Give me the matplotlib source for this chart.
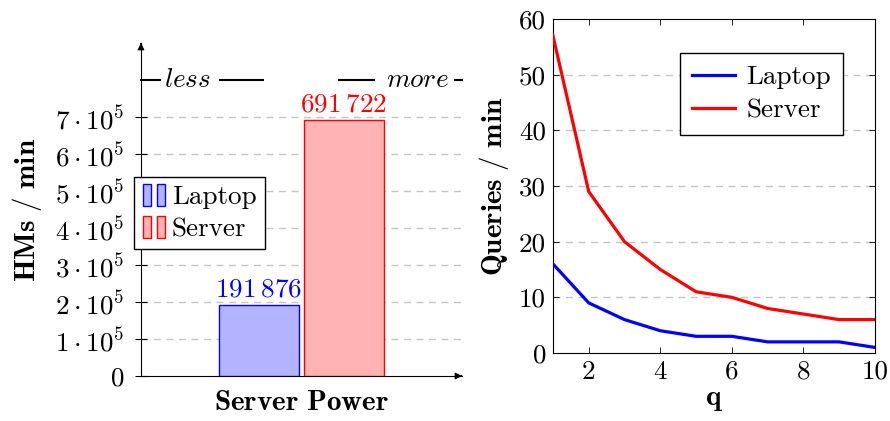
import matplotlib
matplotlib.use("Agg")
import matplotlib.pyplot as plt
import matplotlib.patches as patches
from matplotlib.legend_handler import HandlerBase

# Computer Modern look for all text
plt.rcParams['font.family'] = ['cmr10', 'DejaVu Serif']
plt.rcParams['mathtext.fontset'] = 'cm'
plt.rcParams['axes.formatter.use_mathtext'] = True
plt.rcParams['axes.unicode_minus'] = False

# hash matches per minute on each machine
machines = ['Laptop', 'Server']
hms_per_min = [191876, 691722]
hm_labels = [r'$191\:876$', r'$691\:722$']
hm_ticks = [0, 1e5, 2e5, 3e5, 4e5, 5e5, 6e5, 7e5]
hm_ticklabels = ['$0$'] + [r'$%d\cdot10^{5}$' % k for k in range(1, 8)]

# queries per minute against q
q_values = [1, 2, 3, 4, 5, 6, 7, 8, 9, 10]
laptop_queries = [16, 9, 6, 4, 3, 3, 2, 2, 2, 1]
server_queries = [57, 29, 20, 15, 11, 10, 8, 7, 6, 6]

line_colors = ['#0000ff', '#ff0000']
fill_colors = ['#b3b3ff', '#ffb3b3']
fs = 19.5
lfs = 21


class TwoBarHandler(HandlerBase):
    # legend key made of two little bars, like pgfplots ybar legends
    def create_artists(self, legend, orig, xd, yd, w, h, fontsize, trans):
        bw = w * 0.32
        out = []
        for x0 in (xd + w * 0.05, xd + w * 0.62):
            r = patches.Rectangle((x0, yd - h * 0.1), bw, h * 1.15,
                                  facecolor=orig.get_facecolor(),
                                  edgecolor=orig.get_edgecolor(), lw=1, transform=trans)
            out.append(r)
        return out


fig = plt.figure(figsize=(8.9, 4.21), dpi=100)

# ---------- left: bar chart ----------
ax1 = fig.add_axes([0.1584, 0.1069, 0.3607, 0.791])
ax1.set_xlim(-0.5, 0.5)
ax1.set_ylim(0, 9e5)
offsets = [-0.1325, 0.1325]
bars = []
for name, val, off, lc, fc, lab in zip(machines, hms_per_min, offsets, line_colors, fill_colors, hm_labels):
    b = ax1.bar(off, val, width=0.249, color=fc, edgecolor=lc, linewidth=1, label=name, zorder=3)
    bars.append(b[0])
    ax1.text(off, val + 0.1e5, lab, color=lc, ha='center', va='bottom', fontsize=fs)

for s in ['top', 'right']:
    ax1.spines[s].set_visible(False)
ax1.spines['left'].set_linewidth(0.8)
ax1.spines['bottom'].set_linewidth(0.8)
ax1.set_yticks(hm_ticks)
ax1.set_yticklabels(hm_ticklabels, fontsize=fs)
ax1.set_xticks([])
ax1.tick_params(axis='y', direction='inout', length=8, width=0.8, pad=8)
for t in hm_ticks[1:]:
    ax1.axhline(t, color='#c4c4c4', lw=1, ls=(0, (5, 4)), zorder=1)

# axis arrows
ax1.annotate('', xy=(1.0, 0), xytext=(0.99, 0), xycoords='axes fraction',
             arrowprops=dict(arrowstyle='-|>', color='k', lw=0.8, mutation_scale=10), annotation_clip=False)
ax1.annotate('', xy=(0, 1.0), xytext=(0, 0.99), xycoords='axes fraction',
             arrowprops=dict(arrowstyle='-|>', color='k', lw=0.8, mutation_scale=10), annotation_clip=False)

# "less ... more" guide line at 8e5
tr = ax1.get_yaxis_transform()
for x0, x1 in [(0.0, 0.059), (0.246, 0.380), (0.617, 0.726), (0.978, 1.0)]:
    ax1.plot([x0, x1], [8e5, 8e5], color='k', lw=1.5, transform=tr, clip_on=False)
ax1.text(0.146, 8e5, r'$\mathit{less}$', transform=tr, ha='center', va='center', fontsize=fs)
ax1.text(0.86, 8e5, r'$\mathit{more}$', transform=tr, ha='center', va='center', fontsize=fs)

ax1.set_ylabel(r'$\mathbf{HMs\ /\ min}$', fontsize=lfs, labelpad=8)
ax1.set_xlabel(r'$\mathbf{Server\ Power}$', fontsize=lfs, labelpad=10)
fig.legend(bars, machines, loc='upper left', bbox_to_anchor=(0.1506, 0.5796),
           bbox_transform=fig.transFigure, handler_map={patches.Rectangle: TwoBarHandler()},
           fontsize=fs, fancybox=False, edgecolor='k', framealpha=1, handlelength=0.9,
           handletextpad=0.2, borderpad=0.3, labelspacing=0.3, borderaxespad=0)

# ---------- right: line chart ----------
ax2 = fig.add_axes([0.6213, 0.1615, 0.3618, 0.7933])
l1, = ax2.plot(q_values, laptop_queries, color=line_colors[0], lw=2.3, zorder=3)
l2, = ax2.plot(q_values, server_queries, color=line_colors[1], lw=2.3, zorder=3)
ax2.set_xlim(1, 10)
ax2.set_ylim(0, 60)
ax2.set_xticks([2, 4, 6, 8, 10])
ax2.set_xticklabels(['2', '4', '6', '8', '10'], fontsize=fs)
ax2.set_yticks([0, 10, 20, 30, 40, 50, 60])
ax2.set_yticklabels(['0', '10', '20', '30', '40', '50', '60'], fontsize=fs)
ax2.tick_params(direction='in', length=4, width=0.6, top=True, right=True, pad=5)
for s in ax2.spines.values():
    s.set_linewidth(0.8)
for t in [10, 20, 30, 40, 50]:
    ax2.axhline(t, color='#c4c4c4', lw=1, ls=(0, (5, 4)), zorder=1)
ax2.set_ylabel(r'$\mathbf{Queries\ /\ min}$', fontsize=lfs, labelpad=6)
ax2.set_xlabel(r'$\mathbf{q}$', fontsize=lfs, labelpad=2)
ax2.legend([l1, l2], machines, loc='upper right', bbox_to_anchor=(0.947, 0.874),
           bbox_transform=fig.transFigure, fontsize=fs, fancybox=False, edgecolor='k',
           framealpha=1, handlelength=1.6, handletextpad=0.4, borderpad=0.45,
           labelspacing=0.35, borderaxespad=0)

fig.savefig('out.png', dpi=100)
